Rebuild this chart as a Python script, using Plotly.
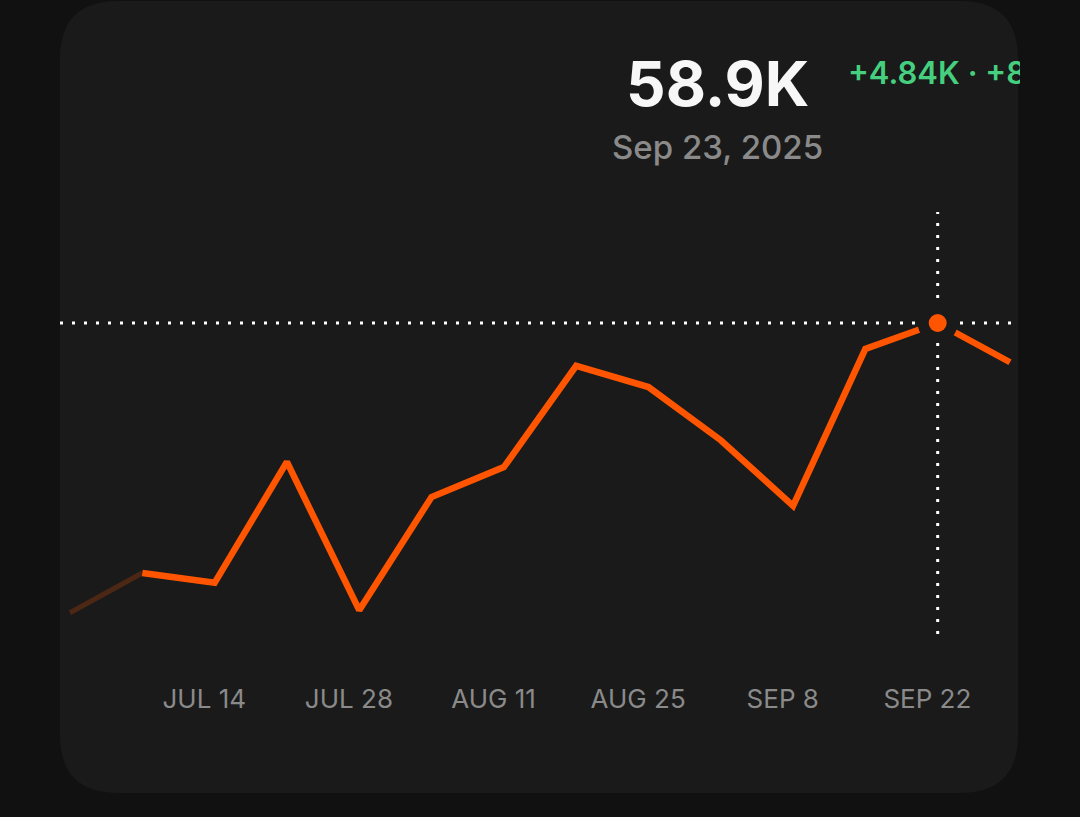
import plotly.graph_objects as go
import pandas as pd

# ---- data ----
dates = ["2025-07-01", "2025-07-08", "2025-07-15", "2025-07-22", "2025-07-29",
         "2025-08-05", "2025-08-12", "2025-08-19", "2025-08-26", "2025-09-02",
         "2025-09-09", "2025-09-16", "2025-09-23", "2025-09-30"]
values = [53.29, 54.06, 53.87, 56.21, 53.34, 55.53, 56.11, 58.07, 57.66, 56.63,
          55.36, 58.40, 58.90, 58.14]  # thousands
tick_dates = ["2025-07-14", "2025-07-28", "2025-08-11", "2025-08-25", "2025-09-08", "2025-09-22"]
tick_labels = ["JUL 14", "JUL 28", "AUG 11", "AUG 25", "SEP 8", "SEP 22"]
highlight = 12
headline = f"{values[highlight]:.1f}K"
date_label = "Sep 23, 2025"
change_label = "+4.84K · +8.9%"

# ---- style ----
W, H = 1080, 817
BG = "#111111"
CARD = "#1a1a1a"
ORANGE = "#ff5500"
FADED = "rgba(255,85,0,0.22)"
GREEN = "#45cf7e"
FONT = "Inter"

d = pd.to_datetime(dates)
x_left, x_right = 60, 1020
first_px, last_px = 70, 1010
px_per_day = (last_px - first_px) / (d[-1] - d[0]).days
xr0 = d[0] - pd.Timedelta(days=(first_px - x_left) / px_per_day)
xr1 = d[-1] + pd.Timedelta(days=(x_right - last_px) / px_per_day)

# y: highlighted value at pixel 323, 0.01936 K per px
kpp = 0.01936
y_top = values[highlight] + 323 * kpp
y_bot = values[highlight] - (H - 323) * kpp

def px(x):
    return x / W

def py(y):
    return 1 - y / H

fig = go.Figure()

fig.add_trace(go.Scatter(x=d[:2], y=values[:2], mode="lines",
                         line=dict(color=FADED, width=5), hoverinfo="skip"))
fig.add_trace(go.Scatter(x=d[1:], y=values[1:], mode="lines",
                         line=dict(color=ORANGE, width=6.5), hoverinfo="skip"))
fig.add_trace(go.Scatter(x=[d[highlight]], y=[values[highlight]], mode="markers",
                         marker=dict(size=40, color=CARD, line=dict(width=0)), hoverinfo="skip"))
fig.add_trace(go.Scatter(x=[d[highlight]], y=[values[highlight]], mode="markers",
                         marker=dict(size=18, color=ORANGE, line=dict(width=0)), hoverinfo="skip"))
# clipped change text on a pixel overlay
fig.add_trace(go.Scatter(x=[848], y=[76], mode="text", text=[change_label],
                         textposition="middle right", cliponaxis=True,
                         textfont=dict(family=FONT, size=31, color=GREEN, weight=600),
                         xaxis="x2", yaxis="y2", hoverinfo="skip"))

# card
r = 58
x0c, x1c, y0c, y1c = 60, 1018, 1, 793
path = (f"M {px(x0c + r)} {py(y0c)} L {px(x1c - r)} {py(y0c)} "
        f"Q {px(x1c)} {py(y0c)} {px(x1c)} {py(y0c + r)} "
        f"L {px(x1c)} {py(y1c - r)} Q {px(x1c)} {py(y1c)} {px(x1c - r)} {py(y1c)} "
        f"L {px(x0c + r)} {py(y1c)} Q {px(x0c)} {py(y1c)} {px(x0c)} {py(y1c - r)} "
        f"L {px(x0c)} {py(y0c + r)} Q {px(x0c)} {py(y0c)} {px(x0c + r)} {py(y0c)} Z")
shapes = [
    dict(type="path", xref="paper", yref="paper", path=path,
         fillcolor=CARD, line=dict(width=0), layer="below"),
    dict(type="line", xref="paper", yref="y", x0=px(60), x1=px(1016),
         y0=values[highlight], y1=values[highlight],
         line=dict(color="#ffffff", width=3, dash="3px,9px"), layer="below"),
    dict(type="line", xref="x", yref="paper", x0=d[highlight], x1=d[highlight],
         y0=py(634), y1=py(212),
         line=dict(color="#ffffff", width=3, dash="3px,9px"), layer="below"),
]

annotations = [
    dict(text=f"<b>{headline}</b>", x=px(717), y=py(83), xref="paper", yref="paper",
         showarrow=False, xanchor="center", yanchor="middle",
         font=dict(family=FONT, size=62, color="#f7f7f7")),
    dict(text=date_label, x=px(717), y=py(147), xref="paper", yref="paper",
         showarrow=False, xanchor="center", yanchor="middle",
         font=dict(family=FONT, size=33, color="#8a8a8a", weight=500)),
]

fig.update_layout(
    width=W, height=H,
    margin=dict(l=0, r=0, t=0, b=0),
    paper_bgcolor=BG, plot_bgcolor="rgba(0,0,0,0)",
    showlegend=False,
    shapes=shapes, annotations=annotations,
    xaxis=dict(type="date", domain=[px(x_left), px(x_right)], range=[xr0, xr1],
               tickvals=pd.to_datetime(tick_dates), ticktext=tick_labels,
               showgrid=False, zeroline=False, showline=False, ticks="",
               anchor="free", position=py(681),
               tickfont=dict(family=FONT, size=26, color="#8a8a8a")),
    yaxis=dict(domain=[0, 1], range=[y_bot, y_top], visible=False),
    xaxis2=dict(domain=[px(x_left), px(x_right)], range=[x_left, x_right],
                visible=False, anchor="y2"),
    yaxis2=dict(domain=[0, 1], range=[H, 0], visible=False, anchor="x2"),
)

fig.write_html("out.html", config={"displayModeBar": False, "staticPlot": True},
               post_script="document.body.style.margin='0';document.body.style.background='#111111';")
